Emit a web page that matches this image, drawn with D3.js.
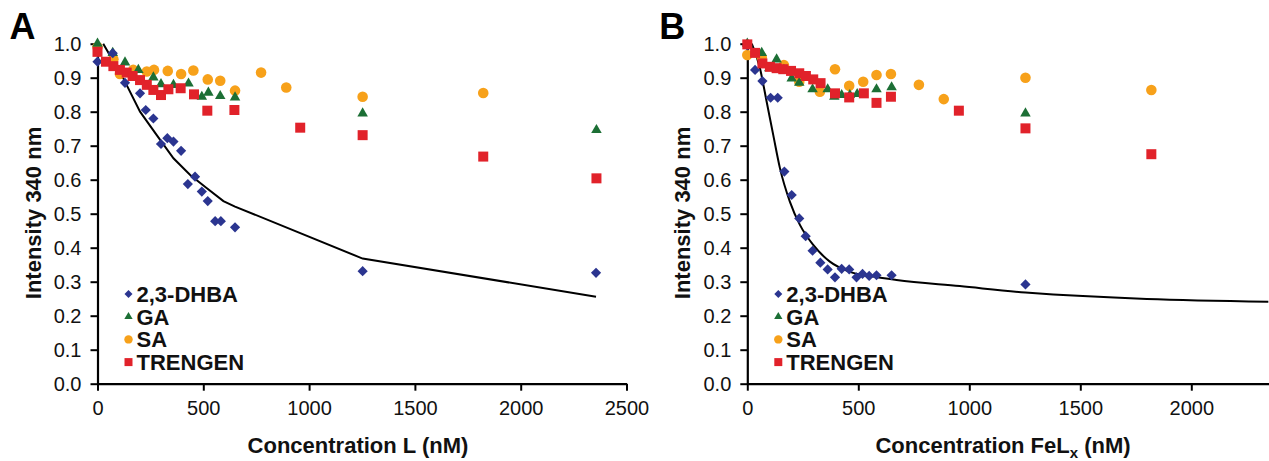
<!DOCTYPE html>
<html>
<head>
<meta charset="utf-8">
<script src="https://cdn.jsdelivr.net/npm/d3@7"></script>
<style>
  body { margin: 0; background: #fff; }
  text { font-family: "Liberation Sans", Arial, sans-serif; }
</style>
</head>
<body>
<div id="d3"></div>
<script>
// panel A: concentration L (nM) vs intensity 340 nm
const a_dhba = [[0,0.947],[72,0.972],[130,0.885],[201,0.854],[228,0.805],[264,0.78],[300,0.705],[330,0.722],[359,0.712],[395,0.685],[427,0.587],[461,0.609],[493,0.565],[521,0.537],[556,0.478],[583,0.478],[650,0.46],[1253,0.331],[2356,0.326]];
const a_ga = [[0,1.0],[72,0.973],[130,0.945],[193,0.923],[264,0.901],[300,0.881],[359,0.879],[430,0.883],[493,0.844],[524,0.856],[580,0.846],[650,0.842],[1253,0.795],[2358,0.746]];
const a_sa = [[0,0.99],[75,0.954],[106,0.911],[169,0.923],[233,0.918],[267,0.923],[332,0.92],[395,0.911],[453,0.921],[521,0.895],[580,0.891],[650,0.862],[773,0.915],[892,0.871],[1253,0.844],[1823,0.855]];
const a_trengen = [[0,0.976],[40,0.947],[75,0.934],[106,0.923],[138,0.915],[166,0.905],[201,0.893],[233,0.879],[264,0.864],[300,0.849],[335,0.866],[393,0.869],[456,0.851],[519,0.803],[647,0.805],[958,0.753],[1253,0.731],[1823,0.668],[2358,0.604]];
const a_fit = [[27,1.0],[122,0.898],[201,0.80],[280,0.731],[359,0.663],[438,0.614],[517,0.575],[595,0.537],[650,0.521],[1253,0.368],[2356,0.256]];

// panel B: concentration FeLx (nM) vs intensity 340 nm
const b_dhba = [[0,0.995],[35,0.923],[68,0.89],[105,0.841],[137,0.841],[167,0.624],[200,0.555],[234,0.486],[263,0.434],[294,0.391],[329,0.356],[362,0.336],[395,0.313],[425,0.338],[459,0.336],[492,0.313],[519,0.323],[549,0.317],[582,0.319],[650,0.319],[1253,0.292]];
const b_ga = [[0,1.0],[65,0.973],[99,0.928],[132,0.954],[165,0.923],[200,0.898],[234,0.885],[294,0.866],[362,0.866],[392,0.844],[425,0.849],[462,0.849],[495,0.852],[582,0.866],[650,0.872],[1253,0.795]];
const b_sa = [[0,0.967],[65,0.96],[165,0.937],[234,0.888],[327,0.859],[395,0.925],[459,0.876],[522,0.888],[582,0.908],[647,0.911],[773,0.879],[885,0.837],[1253,0.9],[1820,0.864]];
const b_trengen = [[0,0.998],[35,0.973],[68,0.942],[102,0.932],[132,0.928],[162,0.925],[197,0.92],[234,0.913],[264,0.905],[297,0.895],[330,0.884],[395,0.854],[459,0.842],[525,0.854],[582,0.826],[647,0.844],[953,0.803],[1253,0.751],[1820,0.675]];
const b_fit = [[20,1.0],[57,0.928],[87,0.83],[117,0.731],[147,0.634],[192,0.535],[237,0.467],[297,0.408],[372,0.359],[462,0.329],[567,0.315],[672,0.305],[957,0.287],[1253,0.268],[2347,0.241]];

const series_names = ["2,3-DHBA", "GA", "SA", "TRENGEN"];
const y_ticks = [0, 0.1, 0.2, 0.3, 0.4, 0.5, 0.6, 0.7, 0.8, 0.9, 1.0];
const a_x_ticks = [0, 500, 1000, 1500, 2000, 2500];
const b_x_ticks = [0, 500, 1000, 1500, 2000];

const colors = { "2,3-DHBA": "#2b3590", "GA": "#1c6f35", "SA": "#f7a11a", "TRENGEN": "#e1222a" };
const shapes = { "2,3-DHBA": d3.symbolSquare, "GA": d3.symbolTriangle, "SA": d3.symbolCircle, "TRENGEN": d3.symbolSquare };
const sizes = { "2,3-DHBA": 52, "GA": 48, "SA": 88, "TRENGEN": 100 };
const legend_sizes = { "2,3-DHBA": 32, "GA": 30, "SA": 56, "TRENGEN": 64 };
const draw_order = ["SA", "GA", "2,3-DHBA", "TRENGEN"];

const svg = d3.select("#d3").append("svg")
    .attr("width", 1269)
    .attr("height", 461);

function drawPanel(p) {
    const x = d3.scaleLinear().domain([0, 2500]).range([p.left, p.left + p.per500 * 5]);
    const y = d3.scaleLinear().domain([0, 1]).range([383.7, 43.7]);
    const g = svg.append("g");

    const yAxis = g.append("g")
        .attr("transform", `translate(${p.left},0)`)
        .call(d3.axisLeft(y).tickValues(y_ticks).tickFormat(d3.format(".1f")).tickSize(7).tickSizeOuter(0).tickPadding(9));
    const xAxis = g.append("g")
        .attr("transform", "translate(0,383.7)")
        .call(d3.axisBottom(x).tickValues(p.xticks).tickFormat(d3.format("d")).tickSize(7).tickSizeOuter(0).tickPadding(10));
    [yAxis, xAxis].forEach(ax => {
        ax.select(".domain").attr("stroke", "#000").attr("stroke-width", 2.2);
        ax.selectAll(".tick line").attr("stroke", "#000").attr("stroke-width", 2);
        ax.selectAll(".tick text").attr("fill", "#111").style("font-size", "20px").style("font-family", "'Liberation Sans', Arial, sans-serif");
    });

    // fit line
    g.append("path")
        .datum(p.fit)
        .attr("fill", "none")
        .attr("stroke", "#000")
        .attr("stroke-width", 2)
        .attr("d", d3.line().x(d => x(d[0])).y(d => y(d[1])).curve(p.curve));

    draw_order.forEach(name => {
        const sym = d3.symbol().type(shapes[name]).size(sizes[name]);
        g.selectAll(null)
            .data(p.data[name])
            .enter()
            .append("path")
            .attr("d", sym)
            .attr("fill", colors[name])
            .attr("transform", d => `translate(${x(d[0])},${y(d[1])})` + (name === "2,3-DHBA" ? " rotate(45)" : ""));
    });

    // legend
    series_names.forEach((name, i) => {
        const ly = 294 + i * 22.7;
        g.append("path")
            .attr("d", d3.symbol().type(shapes[name]).size(legend_sizes[name]))
            .attr("fill", colors[name])
            .attr("transform", `translate(${p.left + 31},${ly})` + (name === "2,3-DHBA" ? " rotate(45)" : ""));
        g.append("text")
            .attr("x", p.left + 39)
            .attr("y", ly + 8)
            .attr("font-size", 22)
            .attr("font-weight", "bold")
            .attr("fill", "#111")
            .text(name);
    });

    // axis titles and panel letter
    g.append("text")
        .attr("transform", `translate(${p.left - 57},213) rotate(-90)`)
        .attr("text-anchor", "middle")
        .attr("font-size", 22)
        .attr("font-weight", "bold")
        .attr("fill", "#111")
        .text("Intensity 340 nm");

    const xt = g.append("text")
        .attr("x", p.titleX)
        .attr("y", 453)
        .attr("text-anchor", "middle")
        .attr("font-size", 22)
        .attr("font-weight", "bold")
        .attr("fill", "#111");
    p.xtitle(xt);

    g.append("text")
        .attr("x", p.left - 88)
        .attr("y", 39)
        .attr("font-size", 36)
        .attr("font-weight", "bold")
        .attr("fill", "#000")
        .text(p.letter);
}

drawPanel({
    letter: "A", left: 97.5, per500: 105.8, xticks: a_x_ticks, titleX: 358,
    data: { "2,3-DHBA": a_dhba, "GA": a_ga, "SA": a_sa, "TRENGEN": a_trengen },
    fit: a_fit, curve: d3.curveLinear,
    xtitle: t => t.text("Concentration L (nM)")
});

drawPanel({
    letter: "B", left: 747.3, per500: 111, xticks: b_x_ticks, titleX: 1003,
    data: { "2,3-DHBA": b_dhba, "GA": b_ga, "SA": b_sa, "TRENGEN": b_trengen },
    fit: b_fit, curve: d3.curveMonotoneX,
    xtitle: t => {
        t.append("tspan").text("Concentration FeL");
        t.append("tspan").attr("font-size", 15).attr("dy", 5).text("x");
        t.append("tspan").attr("dy", -5).text(" (nM)");
    }
});
</script>
</body>
</html>
